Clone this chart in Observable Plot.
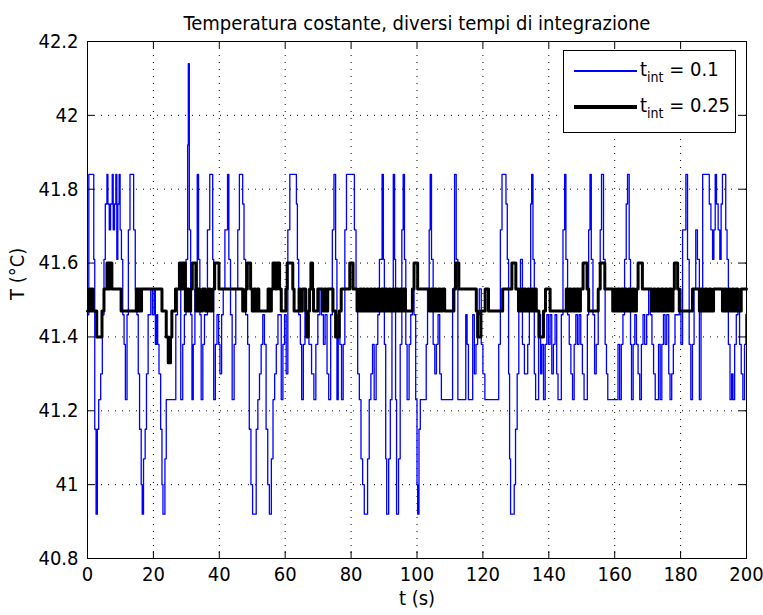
<!DOCTYPE html>
<html>
<head>
<meta charset="utf-8">
<script src="https://cdn.jsdelivr.net/npm/d3@7"></script>
<script src="https://cdn.jsdelivr.net/npm/@observablehq/plot@0.6"></script>
<style>
  html, body { margin: 0; padding: 0; background: #ffffff; }
  #wrap { position: relative; width: 763px; height: 615px; font-family: "Liberation Sans Narrow", "Arial Narrow", "DejaVu Sans Condensed", "Liberation Sans", sans-serif; }
  #legend { position: absolute; left: 563px; top: 50px; width: 171px; height: 81px; border: 1px solid #000; background: #fff; box-sizing: content-box; }
  .lrow { position: absolute; left: 0; height: 30px; width: 171px; }
  .lline { position: absolute; left: 10px; width: 63px; }
  .ltext { position: absolute; left: 76px; font-size: 20px; line-height: 20px; color: #000; white-space: nowrap; }
  .ltext sub { font-size: 14px; vertical-align: -6px; line-height: 0; }
</style>
</head>
<body>
<div id="wrap"></div>
<script>
// ---- data ----
const titleText = "Temperatura costante, diversi tempi di integrazione";
const xLabel = "t (s)";
const yLabel = "T (°C)";
const xTicks = [0, 20, 40, 60, 80, 100, 120, 140, 160, 180, 200];
const yTicks = [40.8, 41, 41.2, 41.4, 41.6, 41.8, 42, 42.2];
const yTickLabels = ["40.8", "41", "41.2", "41.4", "41.6", "41.8", "42", "42.2"];
const seriesNames = ["0.1", "0.25"];

// t_int = 0.1 (blue): change times (s) and values (°C)
const blueT = [0,0.4,1.9,2.2,2.6,3.0,3.4,4.0,4.5,5.0,5.4,5.9,6.2,6.6,7.0,7.5,7.8,8.2,8.6,8.9,9.2,9.6,9.9,10.3,10.7,11.1,11.5,12.0,12.4,12.9,14.0,14.5,15.0,15.4,15.8,16.3,16.6,17.0,17.5,17.9,18.4,19.2,19.7,20.2,20.6,21.0,21.3,21.7,22.2,22.6,22.9,23.5,23.9,26.8,27.3,28.3,28.9,29.4,29.9,30.4,30.6,30.9,31.3,31.7,32.1,32.6,33.3,33.7,34.1,34.5,35.0,35.5,36.4,37.1,38.0,38.3,38.8,39.3,39.8,40.2,40.7,41.2,41.7,42.5,42.9,43.4,43.9,44.5,45.0,45.6,46.1,47.1,47.5,48.0,48.6,49.1,49.6,50.1,51.2,51.7,52.2,52.7,53.2,53.7,54.2,54.7,55.2,55.8,56.3,56.8,57.3,57.8,58.8,59.3,59.8,60.3,60.8,61.4,63.4,63.7,64.1,64.6,65.0,65.5,66.0,
66.5,67.2,68.0,68.7,69.3,69.9,70.5,71.0,71.6,72.1,72.7,73.2,73.8,74.3,74.8,75.3,75.7,76.1,76.6,77.1,77.6,78.1,78.6,81.0,81.5,82.0,82.5,83.0,83.5,84.0,85.0,85.5,86.0,86.5,87.0,87.6,88.1,88.6,89.4,89.8,90.1,90.5,90.8,91.4,91.9,92.4,92.8,93.2,93.5,93.8,94.4,94.9,95.4,95.8,96.2,96.6,97.0,97.6,98.1,98.6,99.1,99.6,100.0,100.2,100.6,101.0,102.8,103.2,103.7,104.0,104.4,104.9,105.4,105.9,106.4,106.9,107.4,110.8,111.4,111.9,112.4,114.8,115.2,115.6,116.9,117.4,117.9,118.4,118.9,119.5,120.0,120.6,124.8,125.3,125.8,127.0,127.4,127.8,128.1,128.4,129.5,129.9,130.4,130.9,131.4,132.0,132.6,
133.6,134.1,134.5,134.8,135.2,135.6,136.0,136.9,137.5,137.9,138.4,138.9,139.4,139.9,140.4,140.9,141.4,141.9,142.4,142.8,143.8,144.3,144.8,145.2,145.7,146.2,146.7,147.2,147.7,148.2,148.7,149.2,149.7,150.2,150.7,151.7,152.1,152.5,152.9,153.4,153.9,154.4,155.0,155.6,156.0,156.6,157.1,157.5,157.9,161.0,161.5,162.0,162.5,163.0,163.5,163.9,164.4,164.8,165.1,165.6,166.1,166.6,167.1,167.6,168.1,168.6,169.1,169.7,170.3,170.8,171.3,171.8,172.3,173.3,173.8,174.3,174.8,175.3,175.8,176.4,176.8,177.3,177.8,178.3,179.1,179.6,180.1,180.6,181.6,182.1,182.6,183.1,183.6,184.1,184.6,185.1,185.7,186.2,186.7,188.7,189.2,189.7,190.1,190.5,190.9,191.4,191.9,192.3,192.7,193.7,194.1,194.5,195.0,195.5,195.9,196.4,196.9,197.4,197.9,198.4,198.9,199.4,199.8,200];
const blueV = [41.46,41.84,41.61,41.15,40.92,41.15,41.23,41.30,41.46,41.61,41.76,41.84,41.76,41.69,41.76,41.84,41.69,41.76,41.84,41.61,41.76,41.84,41.69,41.61,41.46,41.38,41.23,41.46,41.69,41.84,41.69,41.53,41.46,41.30,41.15,41.00,40.92,41.07,41.15,41.30,41.46,41.53,41.46,41.53,41.38,41.46,41.38,41.30,41.15,41.00,40.92,41.07,41.23,41.46,41.53,41.23,41.38,41.46,41.61,41.92,42.14,41.69,41.46,41.23,41.38,41.53,41.84,41.61,41.46,41.23,41.38,41.46,41.69,41.84,41.61,41.23,41.38,41.46,41.38,41.30,41.46,41.53,41.69,41.84,41.61,41.46,41.23,41.38,41.53,41.69,41.84,41.76,41.61,41.46,41.38,41.15,41.00,40.92,41.15,41.23,41.30,41.38,41.46,41.38,41.15,41.00,40.92,41.07,41.23,41.30,41.38,41.46,41.23,41.38,41.46,41.30,41.69,41.84,41.76,41.61,41.46,41.38,41.23,41.38,41.53,
41.46,41.38,41.30,41.23,41.38,41.46,41.53,41.46,41.38,41.46,41.30,41.23,41.46,41.69,41.84,41.61,41.23,41.46,41.38,41.23,41.38,41.69,41.84,41.69,41.53,41.30,41.23,41.07,41.00,40.92,41.07,41.23,41.30,41.38,41.23,41.38,41.46,41.61,41.84,41.61,41.38,41.07,40.92,41.07,41.23,41.53,41.84,41.61,41.23,40.92,41.07,41.38,41.69,41.84,41.61,41.38,41.23,41.38,41.46,41.53,41.46,41.23,41.00,40.92,41.15,41.23,41.38,41.53,41.69,41.84,41.61,41.38,41.30,41.38,41.46,41.30,41.23,41.53,41.84,41.61,41.23,41.46,41.38,41.23,41.46,41.30,41.38,41.46,41.53,41.38,41.30,41.23,41.38,41.69,41.84,41.76,41.61,41.30,41.07,40.92,41.00,41.15,41.30,41.53,41.61,41.38,41.30,
41.38,41.53,41.76,41.84,41.61,41.30,41.23,41.46,41.30,41.38,41.23,41.38,41.46,41.38,41.46,41.30,41.38,41.46,41.30,41.23,41.46,41.69,41.84,41.61,41.46,41.38,41.30,41.23,41.38,41.46,41.38,41.46,41.38,41.30,41.23,41.46,41.69,41.84,41.61,41.46,41.30,41.38,41.53,41.69,41.84,41.61,41.38,41.30,41.23,41.38,41.23,41.38,41.46,41.61,41.76,41.84,41.61,41.38,41.23,41.38,41.46,41.38,41.30,41.23,41.38,41.46,41.38,41.46,41.53,41.46,41.38,41.30,41.23,41.38,41.23,41.38,41.46,41.38,41.46,41.30,41.23,41.30,41.38,41.46,41.46,41.53,41.38,41.69,41.84,41.61,41.38,41.23,41.38,41.53,41.69,41.61,41.23,41.53,41.84,41.76,41.69,41.61,41.69,41.84,41.76,41.69,41.61,41.76,41.84,41.69,41.61,41.38,41.23,41.30,41.23,41.38,41.46,41.53,41.38,41.30,41.23,41.38,41.46,41.46];

// t_int = 0.25 (black): change times (s) and values (°C)
const blackT = [0,0.5,0.9,1.3,1.7,2.8,4.4,5.0,5.9,6.4,6.7,7.4,10.2,14.8,15.2,15.6,16.0,16.4,22.6,23.9,24.5,25.2,25.6,26.7,27.9,28.5,28.9,29.7,30.3,30.7,31.3,31.8,32.9,33.5,34.0,34.9,35.8,36.7,37.2,38.0,38.6,39.9,47.1,48.0,48.5,49.5,50.0,50.5,51.0,51.5,52.0,54.8,55.3,55.8,56.3,57.1,57.5,58.3,58.8,60.2,60.6,62.3,62.7,64.2,64.6,65.2,66.2,66.5,
67.0,67.4,67.8,68.3,68.6,69.9,71.4,71.9,72.4,72.9,73.9,74.5,75.3,76.4,77.0,79.6,80.6,81.8,82.6,83.1,83.6,84.1,84.7,85.2,85.8,86.3,86.9,87.4,88.0,88.6,89.2,89.8,90.4,90.9,91.5,92.0,92.6,93.1,93.7,94.3,94.8,95.4,95.9,96.5,98.6,99.1,100.2,103.7,104.2,104.8,105.3,105.9,106.5,107.1,107.7,108.4,111.2,111.7,112.7,118.0,118.4,119.4,120.7,121.7,126.0,128.8,130.0,130.8,131.3,131.9,132.4,133.0,
133.6,134.1,134.6,135.1,135.6,136.2,137.0,138.4,139.0,140.4,145.3,145.8,146.3,146.8,147.4,148.0,148.5,149.1,149.6,150.4,151.6,152.1,155.0,155.6,157.0,159.4,159.9,160.4,160.9,161.5,162.0,162.6,163.1,163.6,164.2,164.8,165.4,165.9,166.6,167.1,168.4,171.2,171.8,172.3,172.9,173.5,174.1,174.7,175.3,175.9,176.5,177.2,177.7,178.1,179.1,179.6,183.6,185.7,186.2,186.8,187.4,188.0,188.6,189.2,190.0,192.7,193.2,193.8,194.4,195.0,195.6,196.2,196.8,197.4,198.4,200];
const blackV = [41.47,41.53,41.47,41.53,41.47,41.40,41.47,41.53,41.60,41.53,41.60,41.53,41.47,41.53,41.47,41.53,41.47,41.53,41.47,41.40,41.33,41.40,41.47,41.53,41.60,41.53,41.60,41.47,41.53,41.47,41.53,41.60,41.47,41.53,41.47,41.53,41.47,41.53,41.47,41.53,41.60,41.53,41.47,41.53,41.60,41.53,41.47,41.53,41.47,41.53,41.47,41.53,41.47,41.53,41.60,41.53,41.60,41.53,41.47,41.53,41.60,41.53,41.47,41.53,41.47,41.53,41.47,41.40,
41.47,41.53,41.60,41.53,41.47,41.53,41.47,41.53,41.47,41.53,41.53,41.47,41.40,41.47,41.53,41.60,41.53,41.47,41.53,41.47,41.53,41.47,41.53,41.47,41.53,41.47,41.53,41.47,41.53,41.47,41.53,41.47,41.53,41.47,41.53,41.47,41.53,41.47,41.53,41.47,41.53,41.47,41.53,41.47,41.53,41.60,41.53,41.47,41.53,41.47,41.53,41.47,41.53,41.47,41.53,41.47,41.53,41.60,41.53,41.47,41.40,41.47,41.53,41.47,41.53,41.60,41.53,41.47,41.53,41.47,41.53,41.47,
41.53,41.47,41.53,41.47,41.53,41.47,41.40,41.47,41.53,41.47,41.53,41.47,41.53,41.47,41.53,41.47,41.53,41.47,41.53,41.60,41.53,41.47,41.53,41.60,41.53,41.47,41.53,41.47,41.53,41.47,41.53,41.47,41.53,41.47,41.53,41.47,41.53,41.47,41.53,41.60,41.53,41.47,41.53,41.47,41.53,41.47,41.53,41.47,41.53,41.47,41.53,41.47,41.53,41.60,41.53,41.47,41.53,41.47,41.53,41.47,41.53,41.47,41.53,41.47,41.53,41.47,41.53,41.47,41.53,41.47,41.53,41.47,41.53,41.47,41.53,41.53];

// ---- build ----
const blue = blueT.map((t, i) => ({t, v: blueV[i]}));
const black = blackT.map((t, i) => ({t, v: blackV[i]}));

const W = 763, H = 615;
const mL = 87, mR = 17, mT = 41, mB = 57;
const fw = W - mL - mR, fh = H - mT - mB;
const tick = 7;
const fontFam = '"Liberation Sans Narrow", "Arial Narrow", "DejaVu Sans Condensed", "Liberation Sans", sans-serif';

const chart = Plot.plot({
  width: W,
  height: H,
  marginLeft: mL,
  marginRight: mR,
  marginTop: mT,
  marginBottom: mB,
  style: {fontFamily: fontFam, fontSize: "20px", background: "#ffffff", color: "#000"},
  x: {domain: [0, 200], type: "linear"},
  y: {domain: [40.8, 42.2], type: "linear"},
  marks: [
    Plot.ruleX(xTicks, {x: d => d, stroke: "#000", strokeOpacity: 1, strokeWidth: 1, strokeDasharray: "1,6"}),
    Plot.ruleY(yTicks, {y: d => d, stroke: "#000", strokeOpacity: 1, strokeWidth: 1, strokeDasharray: "1,6"}),
    Plot.line(blue, {x: "t", y: "v", curve: "step-after", stroke: "#0000ff", strokeWidth: 1.3}),
    Plot.line(black, {x: "t", y: "v", curve: "step-after", stroke: "#000000", strokeWidth: 3}),
    Plot.tickX(xTicks, {x: d => d, insetTop: fh - tick, stroke: "#000"}),
    Plot.tickX(xTicks, {x: d => d, insetBottom: fh - tick, stroke: "#000"}),
    Plot.tickY(yTicks, {y: d => d, insetRight: fw - tick, stroke: "#000"}),
    Plot.tickY(yTicks, {y: d => d, insetLeft: fw - tick, stroke: "#000"}),
    Plot.frame({stroke: "#000", strokeWidth: 1}),
    Plot.axisX(xTicks, {tickSize: 0, tickPadding: 8, fontSize: 20, tickFormat: d => String(d), label: null}),
    Plot.axisY(yTicks, {tickSize: 0, tickPadding: 9, fontSize: 20, tickFormat: (d, i) => yTickLabels[yTicks.indexOf(d)], label: null}),
    Plot.text([titleText], {text: d => d, frameAnchor: "top", dy: -26, fontSize: 20}),
    Plot.text([xLabel], {text: d => d, frameAnchor: "bottom", dy: 46, fontSize: 20}),
    Plot.text([yLabel], {text: d => d, frameAnchor: "left", dx: -70, rotate: -90, fontSize: 20})
  ]
});

const wrap = document.getElementById("wrap");
wrap.appendChild(chart);

// legend
const legend = document.createElement("div");
legend.id = "legend";
const rows = [
  {name: seriesNames[0], color: "#0000ff", w: 1.2, top: 5},
  {name: seriesNames[1], color: "#000000", w: 3.5, top: 41}
];
rows.forEach(r => {
  const row = document.createElement("div");
  row.className = "lrow";
  row.style.top = r.top + "px";
  const ln = document.createElement("div");
  ln.className = "lline";
  ln.style.top = (15 - r.w / 2) + "px";
  ln.style.height = r.w + "px";
  ln.style.background = r.color;
  const tx = document.createElement("div");
  tx.className = "ltext";
  tx.style.top = "3px";
  tx.innerHTML = "t<sub>int</sub> = " + r.name;
  row.appendChild(ln);
  row.appendChild(tx);
  legend.appendChild(row);
});
wrap.appendChild(legend);
</script>
</body>
</html>
